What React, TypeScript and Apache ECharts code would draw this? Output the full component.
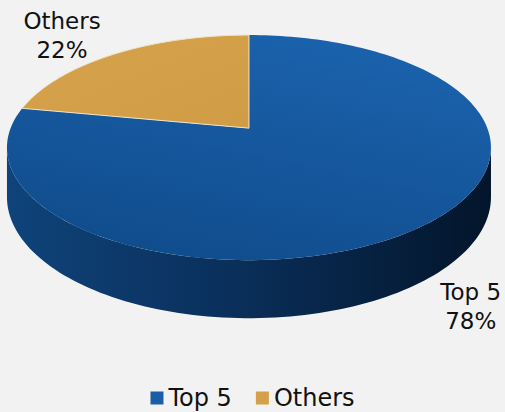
import React, { useEffect, useRef } from "react";
import * as echarts from "echarts";

// ---- data ----
const categories: string[] = ["Top 5", "Others"];
const values: number[] = [78, 22];

// ---- styling ----
const sliceColors = ["#1a5ea8", "#d4a04a"];
const FONT = "'DejaVu Sans', Verdana, sans-serif";

const total = values.reduce((a, b) => a + b, 0);
const starts: number[] = [];
{
  let acc = 0;
  for (const v of values) {
    starts.push(acc);
    acc += v;
  }
}

// perspective-projected 3D pie geometry (relative to chart size)
function makeProj(W: number, H: number) {
  const CX = W * 0.493;
  const CY = H * 0.311;
  const A = W * 0.472;
  const B = H * 0.265;
  const K = 0.173;
  const D = H * 0.1165;
  const proj = (theta: number, r = 1, depth = 0): number[] => {
    const u = r * Math.sin(theta);
    const v = -r * Math.cos(theta);
    const s = 1 / (1 - K * v);
    return [CX + A * u * s, CY + B * v * s + depth * s];
  };
  const ts = Math.acos(-K);
  return { proj, D, ts, CX, CY };
}

function arc(proj: any, a0: number, a1: number, depth: number, r = 1) {
  const pts: number[][] = [];
  const n = Math.max(2, Math.ceil(((a1 - a0) / (Math.PI * 2)) * 240));
  for (let i = 0; i <= n; i++) {
    const t = a0 + ((a1 - a0) * i) / n;
    pts.push(proj(t, r, depth));
  }
  return pts;
}

const topFills = [
  new echarts.graphic.LinearGradient(0.75, 0, 0.3, 1, [
    { offset: 0, color: "#1b63ae" },
    { offset: 1, color: "#104c8c" },
  ]),
  new echarts.graphic.LinearGradient(0, 0, 1, 1, [
    { offset: 0, color: "#d6a24b" },
    { offset: 1, color: "#d09c46" },
  ]),
];
const wallFills = [
  new echarts.graphic.LinearGradient(0, 0, 1, 0, [
    { offset: 0, color: "#0f437a" },
    { offset: 0.45, color: "#0a305c" },
    { offset: 1, color: "#03152a" },
  ]),
  new echarts.graphic.LinearGradient(0, 0, 1, 0, [
    { offset: 0, color: "#a97a30" },
    { offset: 1, color: "#6e4d1a" },
  ]),
];
const labelNudge: number[][] = [
  [9, 4],
  [-32, -7],
];

function makeRenderItem(idx: number) {
  return (params: any, api: any) => {
    const W = api.getWidth();
    const H = api.getHeight();
    const { proj, D, ts, CX, CY } = makeProj(W, H);
    const value = api.value(0);
    const t0 = (starts[idx] / total) * Math.PI * 2;
    const t1 = t0 + (value / total) * Math.PI * 2;
    const children: any[] = [];

    // side wall (front part only)
    const a0 = Math.max(t0, ts);
    const a1 = Math.min(t1, Math.PI * 2 - ts);
    if (a0 < a1) {
      const topArc = arc(proj, a0, a1, 0);
      const botArc = arc(proj, a0, a1, D).reverse();
      children.push({
        type: "polygon",
        z2: 1,
        shape: { points: topArc.concat(botArc) },
        style: { fill: wallFills[idx], stroke: null },
      });
    }

    // top surface
    const pts = [[CX, CY]].concat(arc(proj, t0, t1, 0));
    children.push({
      type: "polygon",
      z2: 2,
      shape: { points: pts },
      style: {
        fill: topFills[idx],
        stroke: idx === 1 ? "#efe3c8" : null,
        lineWidth: idx === 1 ? 1 : 0,
      },
    });

    // label
    const mid = (t0 + t1) / 2;
    const front = Math.cos(mid) < 0;
    const lp = proj(mid, 1.18, front ? D : 0);
    const pct = Math.round((value / total) * 100) + "%";
    children.push({
      type: "text",
      z2: 3,
      x: lp[0] + labelNudge[idx][0],
      y: lp[1] + labelNudge[idx][1],
      style: {
        text: categories[idx] + "\n" + pct,
        fill: "#111111",
        font: `23px ${FONT}`,
        lineHeight: 29,
        align: "center",
        verticalAlign: "middle",
      },
    });

    return { type: "group", children };
  };
}

export default function App() {
  const ref = useRef<HTMLDivElement>(null);
  useEffect(() => {
    if (!ref.current) return;
    const chart = echarts.init(ref.current, null, { renderer: "svg" });
    chart.setOption({
      animation: false,
      backgroundColor: "#f2f2f2",
      legend: {
        data: categories,
        bottom: -3,
        left: "center",
        icon: "rect",
        itemWidth: 13,
        itemHeight: 13,
        itemGap: 24,
        textStyle: { fontSize: 24, fontFamily: FONT, color: "#111111" },
      },
      series: categories.map((name, i) => ({
        type: "custom",
        name,
        coordinateSystem: "none",
        renderItem: makeRenderItem(i),
        itemStyle: { color: sliceColors[i] },
        data: [[values[i]]],
      })),
    });
    return () => chart.dispose();
  }, []);
  return (
    <div
      ref={ref}
      style={{ position: "fixed", left: 0, top: 0, width: 505, height: 412 }}
    />
  );
}
